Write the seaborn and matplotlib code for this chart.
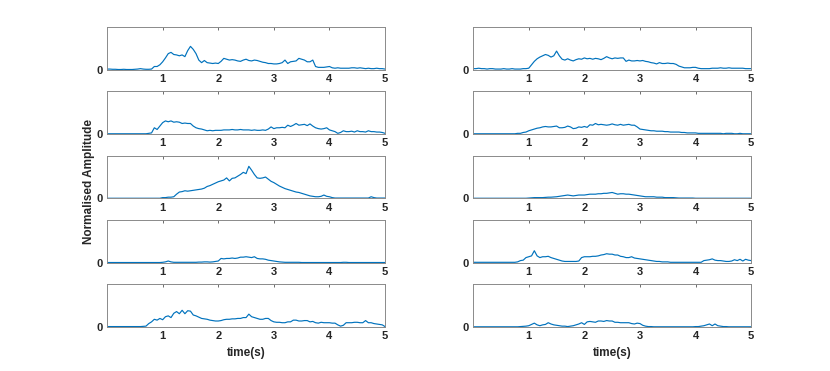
import numpy as np
import pandas as pd
import seaborn as sns
import matplotlib.pyplot as plt

# ------------------------------ values read off ------------------------------
# one sample every 0.05 s from 0 to 5 s (101 samples per trace)
left_1 = [0.02, 0.02, 0.015, 0.015, 0.01, 0.01, 0.015, 0.01, 0.01, 0.01,
          0.015, 0.02, 0.03, 0.02, 0.015, 0.015, 0.02, 0.08, 0.08, 0.12,
          0.19, 0.28, 0.38, 0.41, 0.36, 0.35, 0.33, 0.35, 0.31, 0.45,
          0.55, 0.48, 0.38, 0.23, 0.17, 0.22, 0.17, 0.16, 0.15, 0.16,
          0.15, 0.20, 0.27, 0.25, 0.23, 0.24, 0.23, 0.21, 0.20, 0.23,
          0.25, 0.22, 0.21, 0.23, 0.22, 0.20, 0.18, 0.17, 0.15, 0.15,
          0.14, 0.14, 0.15, 0.17, 0.23, 0.15, 0.19, 0.20, 0.21, 0.27,
          0.25, 0.23, 0.19, 0.19, 0.23, 0.08, 0.06, 0.06, 0.06, 0.07,
          0.08, 0.05, 0.04, 0.05, 0.04, 0.04, 0.04, 0.04, 0.05, 0.05,
          0.04, 0.05, 0.04, 0.03, 0.04, 0.03, 0.03, 0.04, 0.03, 0.03,
          0.02]
right_1 = [0.03, 0.03, 0.04, 0.03, 0.03, 0.02, 0.03, 0.03, 0.02, 0.02,
           0.02, 0.03, 0.02, 0.02, 0.03, 0.02, 0.02, 0.02, 0.03, 0.03,
           0.04, 0.12, 0.20, 0.26, 0.30, 0.33, 0.36, 0.34, 0.30, 0.33,
           0.44, 0.33, 0.25, 0.23, 0.26, 0.23, 0.21, 0.24, 0.26, 0.25,
           0.28, 0.26, 0.27, 0.25, 0.27, 0.26, 0.24, 0.27, 0.31, 0.28,
           0.26, 0.28, 0.27, 0.28, 0.28, 0.20, 0.23, 0.21, 0.21, 0.22,
           0.21, 0.22, 0.20, 0.19, 0.17, 0.16, 0.14, 0.17, 0.15, 0.15,
           0.16, 0.15, 0.15, 0.13, 0.09, 0.07, 0.05, 0.05, 0.05, 0.06,
           0.06, 0.04, 0.03, 0.03, 0.03, 0.03, 0.04, 0.04, 0.04, 0.05,
           0.04, 0.04, 0.05, 0.04, 0.04, 0.04, 0.04, 0.04, 0.03, 0.03,
           0.03]
left_2 = [0.01, 0.01, 0.01, 0.01, 0.01, 0.01, 0.01, 0.01, 0.01, 0.01,
          0.01, 0.01, 0.01, 0.01, 0.01, 0.02, 0.03, 0.15, 0.11, 0.19,
          0.27, 0.31, 0.29, 0.31, 0.28, 0.29, 0.28, 0.25, 0.26, 0.25,
          0.25, 0.19, 0.15, 0.13, 0.12, 0.10, 0.08, 0.09, 0.08, 0.09,
          0.09, 0.09, 0.10, 0.10, 0.10, 0.11, 0.10, 0.10, 0.11, 0.10,
          0.10, 0.10, 0.09, 0.10, 0.09, 0.09, 0.10, 0.09, 0.12, 0.17,
          0.13, 0.15, 0.15, 0.16, 0.15, 0.21, 0.18, 0.21, 0.25, 0.21,
          0.22, 0.23, 0.20, 0.24, 0.19, 0.15, 0.13, 0.12, 0.13, 0.15,
          0.10, 0.08, 0.06, 0.02, 0.04, 0.08, 0.06, 0.06, 0.07, 0.05,
          0.08, 0.06, 0.06, 0.05, 0.08, 0.06, 0.06, 0.05, 0.05, 0.04,
          0.02]
right_2 = [0.01, 0.01, 0.01, 0.01, 0.01, 0.01, 0.01, 0.01, 0.01, 0.01,
           0.01, 0.01, 0.01, 0.01, 0.01, 0.01, 0.02, 0.02, 0.04, 0.05,
           0.08, 0.10, 0.12, 0.14, 0.15, 0.17, 0.18, 0.17, 0.17, 0.18,
           0.19, 0.15, 0.15, 0.16, 0.19, 0.17, 0.13, 0.14, 0.17, 0.16,
           0.18, 0.16, 0.22, 0.21, 0.25, 0.22, 0.23, 0.22, 0.21, 0.22,
           0.24, 0.22, 0.21, 0.23, 0.21, 0.22, 0.23, 0.21, 0.21, 0.17,
           0.12, 0.11, 0.10, 0.09, 0.08, 0.08, 0.07, 0.07, 0.07, 0.06,
           0.06, 0.05, 0.05, 0.05, 0.05, 0.04, 0.04, 0.03, 0.03, 0.03,
           0.03, 0.02, 0.02, 0.02, 0.02, 0.02, 0.02, 0.02, 0.02, 0.02,
           0.01, 0.02, 0.02, 0.02, 0.01, 0.01, 0.02, 0.01, 0.01, 0.01,
           0.01]
left_3 = [0.005, 0.005, 0.005, 0.005, 0.005, 0.005, 0.005, 0.005, 0.005, 0.005,
          0.005, 0.005, 0.005, 0.005, 0.005, 0.005, 0.005, 0.005, 0.005, 0.005,
          0.02, 0.02, 0.03, 0.03, 0.04, 0.10, 0.15, 0.16, 0.18, 0.17,
          0.18, 0.19, 0.20, 0.21, 0.22, 0.24, 0.28, 0.30, 0.33, 0.36,
          0.39, 0.41, 0.43, 0.48, 0.41, 0.47, 0.48, 0.52, 0.56, 0.61,
          0.58, 0.75, 0.66, 0.56, 0.48, 0.47, 0.48, 0.50, 0.45, 0.40,
          0.37, 0.33, 0.29, 0.26, 0.23, 0.21, 0.19, 0.17, 0.15, 0.14,
          0.12, 0.10, 0.08, 0.06, 0.05, 0.04, 0.04, 0.05, 0.08, 0.05,
          0.04, 0.02, 0.01, 0.01, 0.01, 0.01, 0.01, 0.01, 0.01, 0.01,
          0.01, 0.01, 0.01, 0.01, 0.01, 0.04, 0.02, 0.01, 0.01, 0.01,
          0.01]
right_3 = [0.005, 0.005, 0.005, 0.005, 0.005, 0.005, 0.005, 0.005, 0.005, 0.005,
           0.005, 0.005, 0.005, 0.005, 0.005, 0.005, 0.005, 0.005, 0.005, 0.005,
           0.01, 0.015, 0.02, 0.02, 0.02, 0.02, 0.025, 0.03, 0.03, 0.035,
           0.04, 0.05, 0.06, 0.07, 0.08, 0.07, 0.06, 0.07, 0.08, 0.08,
           0.08, 0.09, 0.10, 0.10, 0.10, 0.11, 0.11, 0.12, 0.12, 0.13,
           0.14, 0.12, 0.10, 0.11, 0.11, 0.10, 0.10, 0.09, 0.08, 0.07,
           0.06, 0.05, 0.04, 0.04, 0.04, 0.04, 0.03, 0.03, 0.03, 0.02,
           0.02, 0.02, 0.02, 0.015, 0.01, 0.01, 0.01, 0.01, 0.01, 0.01,
           0.005, 0.005, 0.005, 0.005, 0.005, 0.005, 0.005, 0.005, 0.005, 0.005,
           0.005, 0.005, 0.005, 0.005, 0.005, 0.005, 0.005, 0.005, 0.005, 0.005,
           0.005]
left_4 = [0.005, 0.005, 0.005, 0.005, 0.005, 0.005, 0.005, 0.005, 0.005, 0.005,
          0.005, 0.005, 0.005, 0.005, 0.005, 0.005, 0.005, 0.005, 0.005, 0.005,
          0.01, 0.02, 0.04, 0.02, 0.01, 0.01, 0.01, 0.01, 0.01, 0.01,
          0.01, 0.01, 0.01, 0.015, 0.015, 0.02, 0.02, 0.015, 0.02, 0.03,
          0.04, 0.10, 0.09, 0.10, 0.10, 0.11, 0.10, 0.11, 0.13, 0.13,
          0.14, 0.13, 0.12, 0.14, 0.10, 0.09, 0.09, 0.08, 0.06, 0.05,
          0.04, 0.03, 0.02, 0.015, 0.01, 0.01, 0.01, 0.01, 0.01, 0.01,
          0.005, 0.005, 0.005, 0.005, 0.005, 0.005, 0.005, 0.005, 0.005, 0.005,
          0.005, 0.005, 0.005, 0.005, 0.005, 0.01, 0.01, 0.005, 0.005, 0.005,
          0.005, 0.005, 0.005, 0.005, 0.005, 0.005, 0.005, 0.005, 0.005, 0.005,
          0.005]
right_4 = [0.01, 0.01, 0.01, 0.01, 0.01, 0.01, 0.01, 0.01, 0.01, 0.01,
           0.01, 0.01, 0.01, 0.01, 0.01, 0.01, 0.02, 0.05, 0.06, 0.12,
           0.14, 0.16, 0.28, 0.16, 0.12, 0.14, 0.14, 0.15, 0.12, 0.10,
           0.08, 0.06, 0.04, 0.03, 0.03, 0.03, 0.03, 0.03, 0.04, 0.12,
           0.14, 0.14, 0.14, 0.15, 0.15, 0.16, 0.18, 0.19, 0.21, 0.20,
           0.20, 0.18, 0.18, 0.15, 0.14, 0.12, 0.12, 0.14, 0.11, 0.10,
           0.09, 0.08, 0.07, 0.06, 0.05, 0.04, 0.03, 0.03, 0.02, 0.02,
           0.02, 0.01, 0.01, 0.01, 0.01, 0.01, 0.01, 0.01, 0.01, 0.01,
           0.01, 0.01, 0.01, 0.05, 0.06, 0.07, 0.09, 0.06, 0.05, 0.05,
           0.04, 0.03, 0.03, 0.04, 0.07, 0.05, 0.08, 0.04, 0.08, 0.06,
           0.05]
left_5 = [0.01, 0.01, 0.01, 0.01, 0.01, 0.01, 0.01, 0.01, 0.01, 0.01,
          0.01, 0.01, 0.01, 0.015, 0.02, 0.08, 0.12, 0.18, 0.16, 0.20,
          0.17, 0.24, 0.26, 0.22, 0.32, 0.36, 0.31, 0.39, 0.31, 0.38,
          0.37, 0.28, 0.26, 0.23, 0.20, 0.19, 0.18, 0.16, 0.15, 0.14,
          0.14, 0.15, 0.17, 0.18, 0.18, 0.19, 0.19, 0.20, 0.20, 0.22,
          0.22, 0.30, 0.24, 0.22, 0.20, 0.18, 0.18, 0.20, 0.20, 0.15,
          0.12, 0.11, 0.11, 0.10, 0.10, 0.12, 0.12, 0.16, 0.16, 0.14,
          0.14, 0.15, 0.15, 0.12, 0.13, 0.10, 0.09, 0.11, 0.10, 0.10,
          0.10, 0.09, 0.09, 0.05, 0.02, 0.04, 0.10, 0.10, 0.10, 0.11,
          0.11, 0.10, 0.10, 0.15, 0.10, 0.10, 0.08, 0.07, 0.06, 0.05,
          0.01]
right_5 = [0.005, 0.005, 0.005, 0.005, 0.005, 0.005, 0.005, 0.005, 0.005, 0.005,
           0.005, 0.005, 0.005, 0.005, 0.005, 0.005, 0.005, 0.01, 0.015, 0.02,
           0.03, 0.06, 0.09, 0.05, 0.03, 0.05, 0.06, 0.10, 0.07, 0.05,
           0.04, 0.03, 0.02, 0.02, 0.01, 0.02, 0.03, 0.05, 0.07, 0.10,
           0.06, 0.12, 0.13, 0.12, 0.11, 0.14, 0.14, 0.13, 0.15, 0.14,
           0.14, 0.11, 0.11, 0.10, 0.10, 0.10, 0.10, 0.08, 0.07, 0.09,
           0.08, 0.04, 0.02, 0.01, 0.01, 0.005, 0.005, 0.005, 0.005, 0.005,
           0.005, 0.005, 0.005, 0.005, 0.005, 0.005, 0.005, 0.005, 0.005, 0.005,
           0.01, 0.01, 0.02, 0.03, 0.05, 0.07, 0.03, 0.07, 0.03, 0.02,
           0.01, 0.01, 0.005, 0.005, 0.005, 0.005, 0.005, 0.005, 0.005, 0.005,
           0.005]

left_traces = [left_1, left_2, left_3, left_4, left_5]
right_traces = [right_1, right_2, right_3, right_4, right_5]
x_ticks = [1, 2, 3, 4, 5]

# ------------------------------- style setup ---------------------------------
sns.set_style("white")
plt.rcParams['font.family'] = ['Liberation Sans', 'DejaVu Sans']
plt.rcParams['font.weight'] = 'bold'

fig, axes = plt.subplots(5, 2, figsize=(8.3, 3.71), dpi=100)
fig.subplots_adjust(left=0.129, right=0.905, top=0.927, bottom=0.1186,
                    wspace=0.317, hspace=0.5)

for col, traces in enumerate([left_traces, right_traces]):
    for row, trace in enumerate(traces):
        ax = axes[row, col]
        df = pd.DataFrame({'time': np.linspace(0, 5, len(trace)), 'amp': trace})
        sns.lineplot(data=df, x='time', y='amp', ax=ax, color='#0072BD', lw=0.85)
        ax.set_xlim(0, 5)
        ax.set_ylim(0, 1)
        ax.set_xticks(x_ticks)
        ax.set_yticks([0])
        ax.set_xticklabels([str(t) for t in x_ticks], fontsize=8, fontweight='bold')
        ax.set_yticklabels(['0'], fontsize=8, fontweight='bold')
        ax.tick_params(direction='in', top=True, right=True, length=2.5,
                       width=0.6, color='#555555', pad=3)
        for s in ax.spines.values():
            s.set_color('#8a8a8a')
            s.set_linewidth(0.7)
        ax.set_ylabel('')
        if row == 4:
            ax.set_xlabel('time(s)', fontsize=8.5, fontweight='bold', labelpad=4)
        else:
            ax.set_xlabel('')

fig.text(0.107, 0.51, 'Normalised Amplitude', rotation=90, ha='center',
         va='center', fontsize=8.5, fontweight='bold')

plt.savefig('out.png', dpi=100)
